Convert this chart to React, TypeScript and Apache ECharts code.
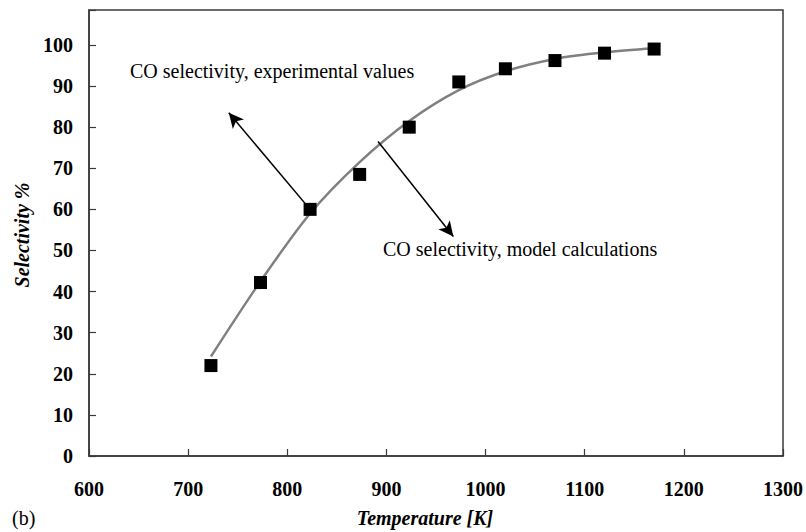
import React, { useEffect, useRef } from "react";
import * as echarts from "echarts";

const expTemps = [723, 773, 823, 873, 923, 973, 1020, 1070, 1120, 1170];
const expValues = [22, 42.2, 60, 68.5, 80, 91, 94.2, 96.2, 98, 99];

const modelTemps = [723, 773, 823, 873, 923, 973, 1020, 1070, 1120, 1170];
const modelValues = [24.2, 42.5, 59, 71.5, 81.5, 89, 93.6, 96.6, 98.2, 99.2];

const xTicks = [600, 700, 800, 900, 1000, 1100, 1200, 1300];
const yTicks = [0, 10, 20, 30, 40, 50, 60, 70, 80, 90, 100];

const arrowExp = { from: [823, 60], to: [741, 83.5] };
const arrowModel = { from: [891.5, 76.5], to: [967.5, 53.4] };

const FONT = "'Liberation Serif', 'Times New Roman', serif";

export default function App() {
  const ref = useRef<HTMLDivElement>(null);
  useEffect(() => {
    if (!ref.current) return;
    const chart = echarts.init(ref.current, null, { renderer: "svg" });
    chart.setOption({
      animation: false,
      backgroundColor: "#ffffff",
      grid: {
        left: 89,
        right: 23,
        top: 10,
        bottom: 76,
        show: true,
        borderColor: "#3a3a3a",
        borderWidth: 1.5,
        backgroundColor: "transparent",
      },
      xAxis: {
        type: "value",
        min: xTicks[0],
        max: xTicks[xTicks.length - 1],
        interval: 100,
        splitLine: { show: false },
        axisLine: { show: true, lineStyle: { color: "#3a3a3a", width: 1.5 } },
        axisTick: { show: true, inside: true, length: 7, lineStyle: { color: "#3a3a3a", width: 1.2 } },
        axisLabel: {
          margin: 23,
          fontFamily: FONT,
          fontWeight: "bold",
          fontSize: 20,
          color: "#000",
          formatter: (v: number) => (xTicks.includes(v) ? String(v) : ""),
        },
      },
      yAxis: {
        type: "value",
        min: 0,
        max: 108.5,
        interval: 10,
        splitLine: { show: false },
        axisLine: { show: true, lineStyle: { color: "#3a3a3a", width: 1.5 } },
        axisTick: { show: true, inside: true, length: 7, lineStyle: { color: "#3a3a3a", width: 1.2 } },
        axisLabel: {
          margin: 16,
          fontFamily: FONT,
          fontWeight: "bold",
          fontSize: 20,
          color: "#000",
          formatter: (v: number) => (yTicks.includes(v) ? String(v) : ""),
        },
      },
      series: [
        {
          name: "CO selectivity, model calculations",
          type: "line",
          data: modelTemps.map((t, i) => [t, modelValues[i]]),
          smooth: 0.3,
          showSymbol: false,
          symbol: "none",
          lineStyle: { color: "#808080", width: 2.5 },
          z: 2,
        },
        {
          name: "CO selectivity, experimental values",
          type: "scatter",
          data: expTemps.map((t, i) => [t, expValues[i]]),
          symbol: "rect",
          symbolSize: 13,
          itemStyle: { color: "#000000", opacity: 1 },
          z: 3,
          markLine: {
            silent: true,
            symbol: ["none", "arrow"],
            symbolSize: [11, 15],
            label: { show: false },
            lineStyle: { color: "#000000", width: 1.5, type: "solid", opacity: 1 },
            data: [
              [{ coord: arrowExp.from }, { coord: arrowExp.to }],
              [{ coord: arrowModel.from }, { coord: arrowModel.to }],
            ],
          },
        },
      ],
      graphic: [
        {
          type: "text",
          left: 130,
          top: 61,
          style: {
            text: "CO selectivity, experimental values",
            font: `20px ${FONT}`,
            fill: "#000",
          },
        },
        {
          type: "text",
          left: 383,
          top: 239,
          style: {
            text: "CO selectivity, model calculations",
            font: `20px ${FONT}`,
            fill: "#000",
          },
        },
        {
          type: "text",
          x: 22,
          y: 235,
          rotation: Math.PI / 2,
          style: {
            text: "Selectivity %",
            font: `italic bold 20px ${FONT}`,
            fill: "#000",
            align: "center",
            verticalAlign: "middle",
          },
        },
        {
          type: "text",
          x: 425,
          y: 518,
          style: {
            text: "Temperature [K]",
            font: `italic bold 20px ${FONT}`,
            fill: "#000",
            align: "center",
            verticalAlign: "middle",
          },
        },
        {
          type: "text",
          x: 12,
          y: 518,
          style: {
            text: "(b)",
            font: `20px ${FONT}`,
            fill: "#000",
            align: "left",
            verticalAlign: "middle",
          },
        },
      ],
    });
    return () => chart.dispose();
  }, []);
  return <div ref={ref} style={{ width: 806, height: 532, position: "absolute", left: 0, top: 0 }} />;
}
